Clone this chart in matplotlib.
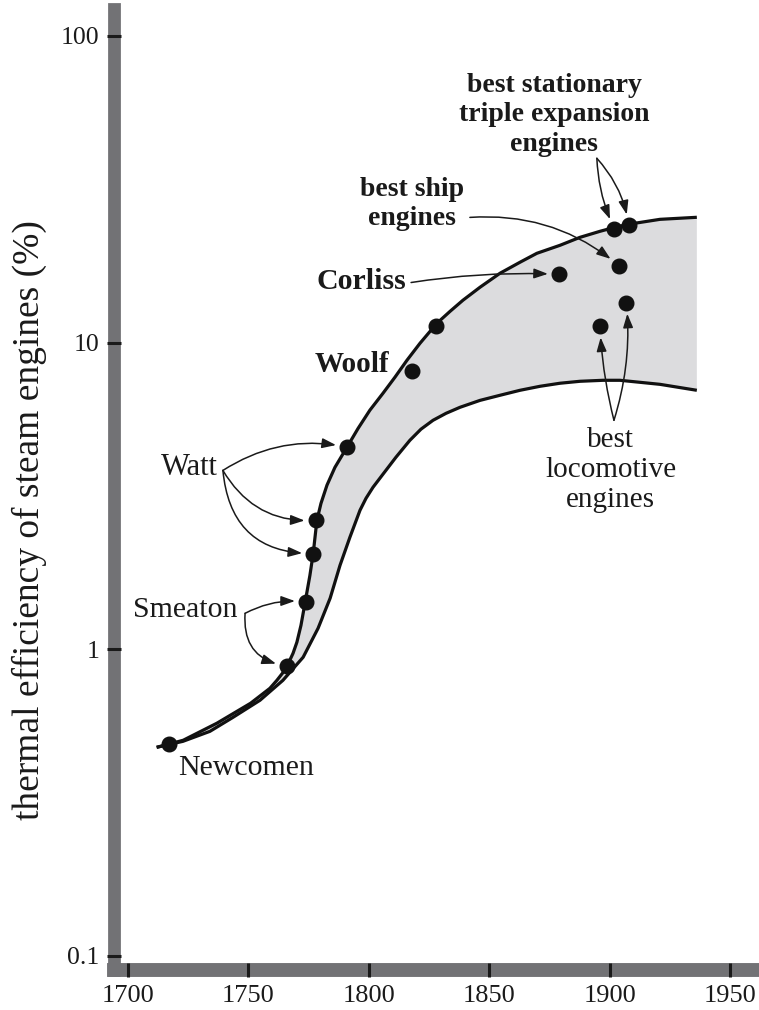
import matplotlib
matplotlib.use("Agg")
from matplotlib import pyplot as plt

plt.rcParams['font.family'] = ['Liberation Serif', 'DejaVu Serif']

# upper and lower bounds of the efficiency band (year, percent)
upper_years = [1712, 1723, 1737, 1751, 1759, 1761.9, 1764.5, 1766.5, 1768.6, 1770.2,
               1771.9, 1773.6, 1775.6, 1777, 1778.5,
               1780.2, 1782.7, 1786, 1791, 1795.6, 1800.5, 1805.9, 1810.9, 1815.9, 1821.3,
               1828.3, 1833.8, 1839.1, 1846.2, 1854.5, 1862.8, 1869.8, 1879.4, 1887.7,
               1896, 1902.2, 1907.6, 1920.9, 1936.2]
upper_eff = [0.479, 0.505, 0.574, 0.667, 0.746, 0.792, 0.841, 0.894, 0.970, 1.054,
             1.197, 1.42, 1.74, 2.06, 2.63,
             2.99, 3.43, 3.92, 4.56, 5.25, 6.02, 6.83, 7.71, 8.76, 9.95,
             11.56, 12.65, 13.74, 15.15, 16.83, 18.28, 19.55, 20.76, 22.04,
             23.06, 23.77, 24.3, 25.23, 25.62]

lower_years = [1712, 1722.9, 1734.1, 1743.7, 1754.9, 1764.4, 1772.8, 1779, 1784, 1788.1,
               1792.2, 1796.4, 1798.9, 1801.8, 1805.9, 1811.3, 1817.1, 1821.7, 1826.7,
               1832.1, 1837.9, 1846.2, 1854.5, 1862.8, 1871.1, 1879.4, 1887.7, 1897.3,
               1904.3, 1912.6, 1920.9, 1936.2]
lower_eff = [0.479, 0.501, 0.540, 0.600, 0.682, 0.792, 0.942, 1.171, 1.467, 1.878,
             2.318, 2.84, 3.107, 3.375, 3.72, 4.227, 4.802, 5.22, 5.58,
             5.88, 6.152, 6.48, 6.733, 6.99, 7.203, 7.37, 7.479, 7.535,
             7.535, 7.422, 7.31, 6.99]

# individual engines
newcomen = ([1717], [0.49])
smeaton = ([1766, 1774], [0.88, 1.43])
watt = ([1777, 1778, 1791], [2.05, 2.63, 4.57])
woolf = ([1818, 1828], [8.06, 11.3])
corliss = ([1879], [16.7])
ship = ([1904], [17.8])
stationary = ([1902, 1908], [23.4, 24.1])
locomotive = ([1896, 1907], [11.3, 13.5])

xticks = [1700, 1750, 1800, 1850, 1900, 1950]
yticks = [0.1, 1, 10, 100]
ytick_labels = ['0.1', '1', '10', '100']

fig = plt.figure(figsize=(7.59, 10.10), dpi=100)
ax = fig.add_axes([0.1502, 0.0396, 0.8498, 0.9515])
ax.set_yscale('log')
ax.set_xlim(1694.3, 1962)
ax.set_ylim(0.090, 122.4)

# shaded band between the two curves
band_x = upper_years + lower_years[::-1]
band_y = upper_eff + lower_eff[::-1]
ax.fill(band_x, band_y, color='#dcdcde', lw=0, zorder=1)
ax.plot(upper_years, upper_eff, color='#111111', lw=2.3, zorder=2, solid_capstyle='butt')
ax.plot(lower_years, lower_eff, color='#111111', lw=2.3, zorder=2, solid_capstyle='butt')

for xs, ys in [newcomen, smeaton, watt, woolf, corliss, ship, stationary, locomotive]:
    ax.plot(xs, ys, 'o', color='#111111', ms=10.5, zorder=3)

# labels
txt = dict(color='#1a1a1a', zorder=4)
ax.text(1720.9, 0.388, 'Newcomen', ha='left', va='baseline', fontsize=21.5, **txt)
ax.text(1723.8, 1.27, 'Smeaton', ha='center', va='baseline', fontsize=21.5, **txt)
ax.text(1725.4, 3.69, 'Watt', ha='center', va='baseline', fontsize=22, **txt)
ax.text(1792.9, 8.0, 'Woolf', ha='center', va='baseline', fontweight='bold',
        fontsize=21, **txt)
ax.text(1797.0, 15.0, 'Corliss', ha='center', va='baseline', fontweight='bold',
        fontsize=21.5, **txt)
ax.text(1817.8, 24.1, 'best ship\nengines', ha='center', va='baseline',
        fontweight='bold', fontsize=20, linespacing=1.25, **txt)
ax.text(1877.0, 42.1, 'best stationary\ntriple expansion\nengines', ha='center',
        va='baseline', fontweight='bold', fontsize=20, linespacing=1.25, **txt)
ax.text(1900.5, 2.90, 'best\nlocomotive\nengines', ha='center', va='baseline',
        fontsize=21, linespacing=1.2, **txt)


def arrow(start, end, rad):
    ax.annotate('', xy=end, xytext=start, zorder=4,
                arrowprops=dict(arrowstyle='-|>,head_length=0.7,head_width=0.25',
                                mutation_scale=12, color='#1a1a1a', lw=1.1,
                                shrinkA=0, shrinkB=8,
                                connectionstyle='arc3,rad=%s' % rad))


watt_from = (1739.5, 3.83)
arrow(watt_from, (watt[0][2], watt[1][2]), -0.2)
arrow(watt_from, (watt[0][1], watt[1][1]), 0.3)
arrow(watt_from, (watt[0][0], watt[1][0]), 0.45)

smeaton_from = (1748.7, 1.31)
arrow(smeaton_from, (smeaton[0][1], smeaton[1][1]), -0.15)
arrow(smeaton_from, (smeaton[0][0], smeaton[1][0]), 0.45)

arrow((1817.6, 15.7), (corliss[0][0], corliss[1][0]), -0.05)
arrow((1842.0, 25.6), (ship[0][0], ship[1][0]), -0.2)

stat_from = (1894.7, 39.9)
arrow(stat_from, (stationary[0][0], stationary[1][0]), 0.1)
arrow(stat_from, (stationary[0][1], stationary[1][1]), -0.15)

loco_from = (1901.8, 5.58)
arrow(loco_from, (locomotive[0][0], locomotive[1][0]), -0.05)
arrow(loco_from, (locomotive[0][1], locomotive[1][1]), 0.1)

# heavy gray axis bars, tick marks drawn on top of them
for side in ['top', 'right']:
    ax.spines[side].set_visible(False)
for side in ['left', 'bottom']:
    ax.spines[side].set_color('#727275')
    ax.spines[side].set_zorder(5)
ax.spines['left'].set_linewidth(9.2)
ax.spines['bottom'].set_linewidth(10)
ax.spines['bottom'].set_capstyle('projecting')
ax.xaxis.set_zorder(6)
ax.yaxis.set_zorder(6)

ax.set_xticks(xticks)
ax.set_xticklabels([str(x) for x in xticks])
ax.set_yticks(yticks)
ax.set_yticklabels(ytick_labels)
ax.yaxis.set_minor_locator(matplotlib.ticker.NullLocator())
ax.tick_params(axis='both', direction='inout', length=9.5, width=2.2,
               color='#1a1a1a', labelcolor='#1a1a1a')
ax.tick_params(axis='x', labelsize=19, pad=6)
ax.tick_params(axis='y', labelsize=18.5, pad=6)

fig.text(29 / 759, 1 - 520 / 1010, 'thermal efficiency of steam engines (%)',
         rotation=90, ha='center', va='center', fontsize=27, color='#1a1a1a')

fig.savefig('out.png', dpi=100)
